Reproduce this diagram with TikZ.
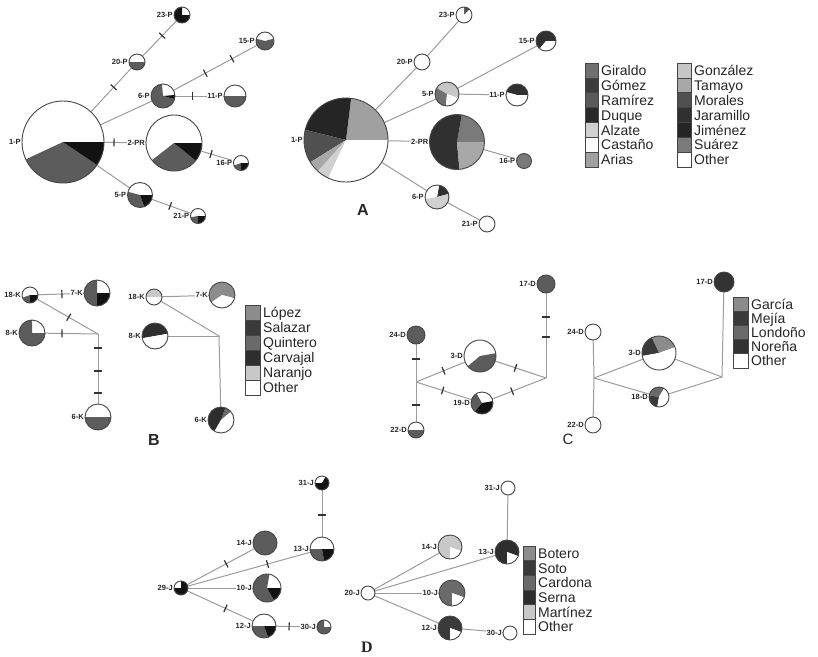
\documentclass[tikz,border=0pt]{standalone}
\usepackage{fontspec}
\setmainfont{Liberation Sans}
\newfontfamily\serifD{Liberation Serif}
\usetikzlibrary{calc}
\pgfdeclarelayer{bg}
\pgfsetlayers{bg,main}
% pie colours (left networks)
\definecolor{pg}{HTML}{5C5C5C}
\definecolor{pk}{HTML}{121212}
% legend colours
\definecolor{lGir}{HTML}{707070}\definecolor{lGom}{HTML}{3D3D3D}\definecolor{lRam}{HTML}{5A5A5A}
\definecolor{lDuq}{HTML}{2A2A2A}\definecolor{lAlz}{HTML}{D0D0D0}\definecolor{lCas}{HTML}{FAFAFA}
\definecolor{lAri}{HTML}{A0A0A0}\definecolor{lGon}{HTML}{C6C6C6}\definecolor{lTam}{HTML}{A8A8A8}
\definecolor{lMor}{HTML}{505050}\definecolor{lJar}{HTML}{303030}\definecolor{lJim}{HTML}{252525}
\definecolor{lSua}{HTML}{7A7A7A}\definecolor{lOth}{HTML}{FFFFFF}
\definecolor{lLop}{HTML}{8C8C8C}\definecolor{lSal}{HTML}{3A3A3A}\definecolor{lQui}{HTML}{6A6A6A}
\definecolor{lCar}{HTML}{2E2E2E}\definecolor{lNar}{HTML}{C8C8C8}
\definecolor{lGar}{HTML}{8C8C8C}\definecolor{lMej}{HTML}{3A3A3A}\definecolor{lLon}{HTML}{6A6A6A}
\definecolor{lNor}{HTML}{333333}
\definecolor{lBot}{HTML}{8C8C8C}\definecolor{lSot}{HTML}{3A3A3A}\definecolor{lCrd}{HTML}{6A6A6A}
\definecolor{lSer}{HTML}{2E2E2E}\definecolor{lMar}{HTML}{C8C8C8}
\definecolor{linkc}{HTML}{9C9C9C}
\definecolor{rimc}{HTML}{454545}
\tikzset{
  hapnode/.style={circle, inner sep=0pt, outer sep=0pt},
  hapline/.style={draw=rimc, line width=0.9pt},
  lbl/.style={anchor=east, inner sep=0.6pt, fill=white, text=black!85,
              font=\bfseries\fontsize{7.5}{8}\selectfont},
  link/.style={draw=linkc, line width=1pt},
  tickm/.style={rectangle, sloped, fill=black!80, draw=none, inner sep=0pt, outer sep=0pt,
                minimum width=1.2pt, minimum height=8pt},
  tickline/.style={draw=black!80, line width=1.2pt},
  legbox/.style={draw=rimc, line width=0.8pt, inner sep=0pt, outer sep=0pt},
  legtext/.style={anchor=base west, inner sep=0pt, text=black!85, font=\fontsize{14}{14}\selectfont},
  panel/.style={font=\bfseries\fontsize{16}{16}\selectfont, text=black!85}
}
\newcommand{\hap}[6]{%
  \node[hapnode, minimum size=2*#4pt] (#1) at (#2,-#3) {};
  \foreach \pa/\pb/\pc in {#6}{\fill[\pc] (#1.center) -- ++(\pa:#4pt) arc[start angle=\pa, end angle=\pb, radius=#4pt] -- cycle;}
  \draw[hapline] (#1.center) circle[radius=#4pt];
  \node[lbl] (#1-lab) at ([xshift=-0.5pt]#1.west) {#5};
}
\newcommand{\legcol}[6]{%
  \foreach \nm/\cl [count=\i] in {#6}{%
    \node[legbox, fill=\cl, minimum width=#5pt, minimum height=#4pt, anchor=north west] (#1b\i) at (#2,{-#3-(\i-1)*#4}) {};
    \node[legtext] (#1t\i) at ([xshift=3pt,yshift=-5pt]#1b\i.east) {\nm};
  }}
% horizontal tick on a vertical connector: x, y (picture pixels)
\newcommand{\vtick}[2]{\draw[tickline] (#1-4,-#2) -- (#1+4,-#2);}
\begin{document}
\begin{tikzpicture}[x=1pt,y=1pt]
\useasboundingbox (0,0) rectangle (818,-656);
\begin{pgfonlayer}{bg}
\fill[white] (0,0) rectangle (818,-656);
\end{pgfonlayer}

% ---------------- Panel A, left ----------------
\hap{aL1}{63}{142}{41}{1-P}{0/205/white, 205/326/pg, 326/360/pk}
\hap{aL2}{174}{143}{28}{2-PR}{0/218/white, 218/321/pg, 321/360/pk}
\hap{aL6}{163}{96}{12}{6-P}{5/95/white, 95/345/pg, 345/365/pk}
\hap{aL11}{235}{96}{11}{11-P}{0/180/white, 180/360/pg}
\hap{aL15}{265}{41}{9}{15-P}{15/165/white, 165/375/pg}
\hap{aL20}{137}{62}{8}{20-P}{0/180/white, 180/360/pg}
\hap{aL23}{182}{15}{8}{23-P}{0/90/white, 90/360/pk}
\hap{aL5}{140}{195}{12.5}{5-P}{0/165/white, 165/290/pg, 290/360/pk}
\hap{aL21}{198}{216}{7.5}{21-P}{0/190/white, 190/270/pg, 270/360/pk}
\hap{aL16}{241}{163}{7.5}{16-P}{0/200/white, 200/270/pg, 270/360/pk}

% ---------------- Panel A, right ----------------
\hap{aR1}{346}{140}{42}{1-P}{0/83/lAri, 83/166/lJim, 166/212/lMor, 212/228/lTam, 228/245/lAlz, 245/360/white}
\hap{aR2}{457}{142}{27.5}{2-PR}{0/80/lSua, 80/275/lJar, 275/360/lTam}
\hap{aR5}{447}{94}{12}{5-P}{-20/150/lGon, 150/265/lGir, 265/340/white}
\hap{aR11}{517}{95}{11}{11-P}{0/165/lJar, 165/360/white}
\hap{aR15}{546}{41}{10}{15-P}{0/230/lJar, 230/360/white}
\hap{aR20}{422}{62}{8}{20-P}{0/360/white}
\hap{aR23}{464}{15}{8}{23-P}{45/90/lMor, 90/405/white}
\hap{aR16}{524}{161}{7.5}{16-P}{0/360/lSua}
\hap{aR6}{437}{197}{12}{6-P}{15/80/lJar, 80/190/white, 190/375/lAlz}
\hap{aR21}{487}{224}{8}{21-P}{0/360/white}

% ---------------- Panel B ----------------
\hap{bL18}{30}{295}{8}{18-K}{0/200/white, 200/270/pg, 270/360/pk}
\hap{bL7}{97}{293}{13}{7-K}{0/90/white, 90/270/pg, 270/360/pk}
\hap{bL8}{32}{333}{13}{8-K}{0/90/white, 90/360/pg}
\hap{bL6}{98}{417}{13}{6-K}{0/180/white, 180/360/pg}
\coordinate (bLj) at (98,-334);
\hap{bR18}{154}{297}{8}{18-K}{0/180/lNar, 180/360/white}
\hap{bR7}{222}{295}{13}{7-K}{-15/215/lLop, 215/345/white}
\hap{bR8}{155}{336}{13}{8-K}{10/190/lCar, 190/370/white}
\hap{bR6}{221}{420}{13}{6-K}{40/70/lQui, 70/240/lCar, 240/400/white}
\coordinate (bRj) at (219,-336);

% ---------------- Panel C ----------------
\hap{cL17}{546}{284}{9}{17-D}{0/360/pg}
\hap{cL24}{416}{335}{9}{24-D}{0/360/pg}
\hap{cL3}{480}{356}{16}{3-D}{10/220/white, 220/370/pg}
\hap{cL19}{482}{403}{11}{19-D}{10/120/white, 120/230/pg, 230/370/pk}
\hap{cL22}{416}{430}{8}{22-D}{0/180/white, 180/360/pg}
\coordinate (cLjl) at (416,-382);
\coordinate (cLjr) at (546,-378);
\hap{cR17}{724}{282}{10}{17-D}{0/360/lNor}
\hap{cR24}{593}{332}{8}{24-D}{0/360/white}
\hap{cR3}{659}{353}{17}{3-D}{20/115/lGar, 115/190/lMej, 190/380/white}
\hap{cR18}{659}{397}{10}{18-D}{60/170/lLon, 170/260/lMej, 260/420/white}
\hap{cR22}{593}{425}{8}{22-D}{0/360/white}
\coordinate (cRjl) at (594,-378);
\coordinate (cRjr) at (722,-377);

% ---------------- Panel D ----------------
\hap{dL31}{322}{483}{7}{31-J}{60/180/white, 180/420/pk}
\hap{dL14}{265}{543}{12}{14-J}{0/360/pg}
\hap{dL13}{322}{549}{12}{13-J}{0/180/white, 180/280/pg, 280/360/pk}
\hap{dL29}{181}{588}{7}{29-J}{90/180/white, 180/450/pk}
\hap{dL10}{267}{588}{14}{10-J}{0/80/white, 80/300/pg, 300/360/pk}
\hap{dL12}{264}{626}{12}{12-J}{0/180/white, 180/290/pg, 290/360/pk}
\hap{dL30}{324}{627}{7}{30-J}{0/90/white, 90/360/pg}
\hap{dR31}{508}{488}{7}{31-J}{0/360/white}
\hap{dR14}{450}{547}{12}{14-J}{-20/270/lMar, 270/340/white}
\hap{dR13}{507}{552}{12}{13-J}{-20/270/lSer, 270/340/white}
\hap{dR20}{368}{593}{7}{20-J}{0/360/white}
\hap{dR10}{452}{593}{13}{10-J}{-20/270/lCrd, 270/340/white}
\hap{dR12}{450}{628}{12}{12-J}{-20/270/lSot, 270/340/white}
\hap{dR30}{510}{633}{7}{30-J}{0/360/white}

% ---------------- connectors (mutation ticks) ----------------
\begin{pgfonlayer}{bg}
% A left
\draw[link] (aL1) -- node[tickm, pos=0.56] (tA1) {} (aL20);
\draw[link] (aL20) -- node[tickm, pos=0.58] (tA2) {} (aL23);
\draw[link] (aL1) -- (aL6);
\draw[link] (aL6) -- node[tickm, pos=0.38] (tA3) {} node[tickm, pos=0.70] (tA4) {} (aL15);
\draw[link] (aL6) -- node[tickm, pos=0.36] (tA5) {} (aL11);
\draw[link] (aL1) -- node[tickm, pos=0.24] (tA6) {} (aL2);
\draw[link] (aL2) -- node[tickm, pos=0.31] (tA7) {} (aL16);
\draw[link] (aL1) -- (aL5);
\draw[link] (aL5) -- node[tickm, pos=0.47] (tA8) {} (aL21);
% A right
\draw[link] (aR1) -- (aR20);
\draw[link] (aR20) -- (aR23);
\draw[link] (aR1) -- (aR5);
\draw[link] (aR5) -- (aR15);
\draw[link] (aR5) -- (aR11);
\draw[link] (aR1) -- (aR2);
\draw[link] (aR2) -- (aR16);
\draw[link] (aR1) -- (aR6);
\draw[link] (aR6) -- (aR21);
% B
\draw[link] (bL18) -- node[tickm, pos=0.52] (tB1) {} (bL7);
\draw[link] (bL18) -- node[tickm, pos=0.52] (tB2) {} (bLj);
\draw[link] (bL8) -- node[tickm, pos=0.32] (tB3) {} (bLj);
\draw[link] (bLj) -- (bL6);
\draw[link] (bR18) -- (bR7);
\draw[link] (bR18) -- (bRj);
\draw[link] (bR8) -- (bRj);
\draw[link] (bRj) -- (bR6);
% C
\draw[link] (cL24) -- (cLjl);
\draw[link] (cLjl) -- (cL22);
\draw[link] (cLjl) -- node[tickm, pos=0.56] (tC3) {} (cL3);
\draw[link] (cLjl) -- node[tickm, pos=0.48] (tC4) {} (cL19);
\draw[link] (cL3) -- node[tickm, pos=0.40] (tC5) {} (cLjr);
\draw[link] (cL19) -- node[tickm, pos=0.37] (tC6) {} (cLjr);
\draw[link] (cLjr) -- (cL17);
\draw[link] (cR24) -- (cRjl);
\draw[link] (cRjl) -- (cR22);
\draw[link] (cRjl) -- (cR3);
\draw[link] (cRjl) -- (cR18);
\draw[link] (cR3) -- (cRjr);
\draw[link] (cR18) -- (cRjr);
\draw[link] (cRjr) -- (cR17);
% D
\draw[link] (dL29) -- node[tickm, pos=0.58] (tD1) {} (dL14);
\draw[link] (dL29) -- node[tickm, pos=0.65] (tD2) {} (dL13);
\draw[link] (dL29) -- (dL10);
\draw[link] (dL29) -- node[tickm, pos=0.58] (tD3) {} (dL12);
\draw[link] (dL12) -- node[tickm, pos=0.32] (tD4) {} (dL30);
\draw[link] (dL13) -- (dL31);
\draw[link] (dR20) -- (dR14);
\draw[link] (dR20) -- (dR13);
\draw[link] (dR20) -- (dR10);
\draw[link] (dR20) -- (dR12);
\draw[link] (dR12) -- (dR30);
\draw[link] (dR13) -- (dR31);
\end{pgfonlayer}
% ticks on the vertical connectors
\vtick{98}{348}\vtick{98}{371}\vtick{98}{393}
\vtick{416}{359}\vtick{416}{405}
\vtick{546}{317}\vtick{546}{337}
\vtick{322}{515}

% ---------------- legends ----------------
\legcol{LA}{585}{63}{14.9}{13}{Giraldo/lGir, Gómez/lGom, Ramírez/lRam, Duque/lDuq, Alzate/lAlz, Castaño/lCas, Arias/lAri}
\legcol{LB}{677}{63}{14.9}{14}{González/lGon, Tamayo/lTam, Morales/lMor, Jaramillo/lJar, Jiménez/lJim, Suárez/lSua, Other/lOth}
\legcol{LK}{245}{305}{15}{15}{López/lLop, Salazar/lSal, Quintero/lQui, Carvajal/lCar, Naranjo/lNar, Other/lOth}
\legcol{LC}{733}{297}{14.2}{15}{García/lGar, Mejía/lMej, Londoño/lLon, Noreña/lNor, Other/lOth}
\legcol{LD}{523}{546}{14.7}{12}{Botero/lBot, Soto/lSot, Cardona/lCrd, Serna/lSer, Martínez/lMar, Other/lOth}

% ---------------- panel letters ----------------
\node[panel] (pA) at (363,-210) {A};
\node[panel] (pB) at (154,-440) {B};
\node[panel, font=\fontsize{15}{15}\selectfont] (pC) at (568,-439) {C};
\node[panel, font=\serifD\bfseries\fontsize{16}{16}\selectfont] (pD) at (367,-647) {D};
\end{tikzpicture}
\end{document}
